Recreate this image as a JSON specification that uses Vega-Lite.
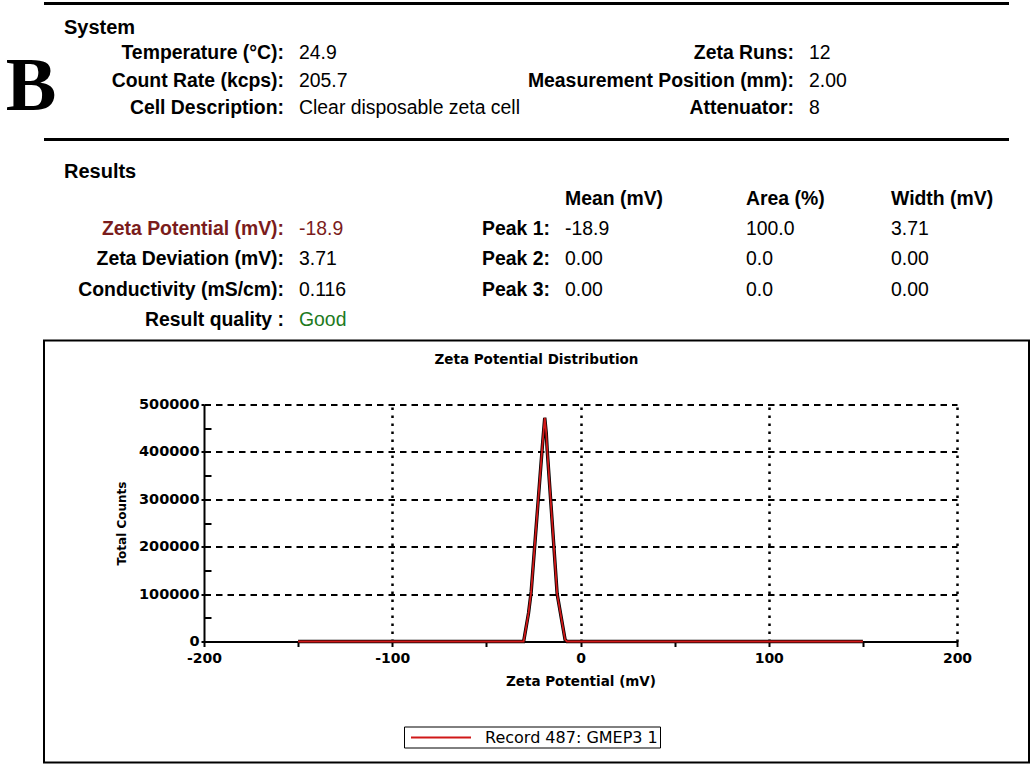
{
  "$schema": "https://vega.github.io/schema/vega-lite/v6.json",
  "background": "white",
  "padding": {"left": 5, "top": 1.5, "right": 0, "bottom": 0},
  "spacing": 3.5,
  "resolve": {"scale": {"color": "independent"}, "legend": {"color": "independent"}},
  "config": {"font": "Liberation Sans", "view": {"stroke": null}},
  "datasets": {
    "rules": [{"edge": "top"}, {"edge": "section"}],
    "system": [
      {"side": "left", "line": "r1", "label": "Temperature (°C):", "value": "24.9"},
      {"side": "left", "line": "r2", "label": "Count Rate (kcps):", "value": "205.7"},
      {"side": "left", "line": "r3", "label": "Cell Description:", "value": "Clear disposable zeta cell"},
      {"side": "right", "line": "r1", "label": "Zeta Runs:", "value": "12"},
      {"side": "right", "line": "r2", "label": "Measurement Position (mm):", "value": "2.00"},
      {"side": "right", "line": "r3", "label": "Attenuator:", "value": "8"}
    ],
    "results": [
      {"block": "zeta", "line": "p1", "label": "Zeta Potential (mV):", "value": "-18.9", "labelTone": "alert", "valueTone": "alert"},
      {"block": "zeta", "line": "p2", "label": "Zeta Deviation (mV):", "value": "3.71", "labelTone": "normal", "valueTone": "normal"},
      {"block": "zeta", "line": "p3", "label": "Conductivity (mS/cm):", "value": "0.116", "labelTone": "normal", "valueTone": "normal"},
      {"block": "zeta", "line": "q", "label": "Result quality :", "value": "Good", "labelTone": "normal", "valueTone": "good"}
    ],
    "peaks": [
      {"block": "peaks", "line": "hdr", "peak": "", "mean": "Mean (mV)", "area": "Area (%)", "width": "Width (mV)"},
      {"block": "peaks", "line": "p1", "peak": "Peak 1:", "mean": "-18.9", "area": "100.0", "width": "3.71"},
      {"block": "peaks", "line": "p2", "peak": "Peak 2:", "mean": "0.00", "area": "0.0", "width": "0.00"},
      {"block": "peaks", "line": "p3", "peak": "Peak 3:", "mean": "0.00", "area": "0.0", "width": "0.00"}
    ],
    "dist": [
      {"mv": -150, "counts": 0, "record": "Record 487: GMEP3 1"},
      {"mv": -30.2, "counts": 0, "record": "Record 487: GMEP3 1"},
      {"mv": -27.6, "counts": 60000, "record": "Record 487: GMEP3 1"},
      {"mv": -26.2, "counts": 105000, "record": "Record 487: GMEP3 1"},
      {"mv": -20.3, "counts": 410000, "record": "Record 487: GMEP3 1"},
      {"mv": -19.0, "counts": 472000, "record": "Record 487: GMEP3 1"},
      {"mv": -18.2, "counts": 440000, "record": "Record 487: GMEP3 1"},
      {"mv": -17.7, "counts": 405000, "record": "Record 487: GMEP3 1"},
      {"mv": -12.4, "counts": 100000, "record": "Record 487: GMEP3 1"},
      {"mv": -8.2, "counts": 4000, "record": "Record 487: GMEP3 1"},
      {"mv": -7.2, "counts": 0, "record": "Record 487: GMEP3 1"},
      {"mv": 150, "counts": 0, "record": "Record 487: GMEP3 1"}
    ]
  },
  "vconcat": [
    {
      "width": 965, "height": 10.5,
      "data": {"name": "rules"},
      "transform": [{"filter": "datum.edge === 'top'"}],
      "mark": {"type": "rule", "color": "#000", "strokeWidth": 3},
      "encoding": {"y": {"field": "edge", "type": "nominal", "scale": {"type": "point", "padding": 0, "align": 0}, "axis": null}}
    },
    {
      "title": {"text": "System", "anchor": "start", "frame": "group", "dx": 20, "offset": 1, "fontSize": 20, "fontWeight": "bold", "color": "#000", "font": "Liberation Sans"},
      "bounds": "flush",
      "spacing": 15,
      "hconcat": [
        {
          "width": 240, "height": 95,
          "data": {"name": "system"},
          "transform": [{"filter": "datum.side === 'left'"}],
          "mark": {"type": "text", "align": "right", "baseline": "middle", "fontWeight": "bold", "fontSize": 19.4, "color": "#000"},
          "encoding": {
            "x": {"field": "side", "type": "nominal", "scale": {"type": "point", "padding": 0, "align": 1}, "axis": null},
            "y": {"field": "line", "type": "nominal", "scale": {"type": "point", "domain": ["r1", "r2", "r3"], "padding": 0.727, "align": 0.35},
              "axis": {"title": "B", "titleAngle": 0, "titleAlign": "right", "titleBaseline": "middle", "titleFont": "Liberation Serif", "titleFontSize": 76, "titleFontWeight": "bold", "titleColor": "#000", "titlePadding": -12, "labels": false, "ticks": false, "domain": false, "grid": false}},
            "text": {"field": "label"}
          }
        },
        {
          "width": 200, "height": 95,
          "data": {"name": "system"},
          "transform": [{"filter": "datum.side === 'left'"}],
          "mark": {"type": "text", "align": "left", "baseline": "middle", "fontSize": 19.4, "color": "#000"},
          "encoding": {
            "x": {"field": "side", "type": "nominal", "scale": {"type": "point", "padding": 0, "align": 0}, "axis": null},
            "y": {"field": "line", "type": "nominal", "scale": {"type": "point", "domain": ["r1", "r2", "r3"], "padding": 0.727, "align": 0.35}, "axis": null},
            "text": {"field": "value"}
          }
        },
        {
          "width": 280, "height": 95,
          "data": {"name": "system"},
          "transform": [{"filter": "datum.side === 'right'"}],
          "mark": {"type": "text", "align": "right", "baseline": "middle", "fontWeight": "bold", "fontSize": 19.4, "color": "#000"},
          "encoding": {
            "x": {"field": "side", "type": "nominal", "scale": {"type": "point", "padding": 0, "align": 1}, "axis": null},
            "y": {"field": "line", "type": "nominal", "scale": {"type": "point", "domain": ["r1", "r2", "r3"], "padding": 0.727, "align": 0.35}, "axis": null},
            "text": {"field": "label"}
          }
        },
        {
          "width": 200, "height": 95,
          "data": {"name": "system"},
          "transform": [{"filter": "datum.side === 'right'"}],
          "mark": {"type": "text", "align": "left", "baseline": "middle", "fontSize": 19.4, "color": "#000"},
          "encoding": {
            "x": {"field": "side", "type": "nominal", "scale": {"type": "point", "padding": 0, "align": 0}, "axis": null},
            "y": {"field": "line", "type": "nominal", "scale": {"type": "point", "domain": ["r1", "r2", "r3"], "padding": 0.727, "align": 0.35}, "axis": null},
            "text": {"field": "value"}
          }
        }
      ]
    },
    {
      "width": 965, "height": 18.5,
      "data": {"name": "rules"},
      "transform": [{"filter": "datum.edge === 'section'"}],
      "mark": {"type": "rule", "color": "#000", "strokeWidth": 3},
      "encoding": {"y": {"field": "edge", "type": "nominal", "scale": {"type": "point", "padding": 0, "align": 0}, "axis": null}}
    },
    {
      "title": {"text": "Results", "anchor": "start", "frame": "group", "dx": 20, "offset": 6, "fontSize": 20, "fontWeight": "bold", "color": "#000", "font": "Liberation Sans"},
      "bounds": "flush",
      "spacing": 15,
      "hconcat": [
        {
          "width": 240, "height": 147.5,
          "data": {"name": "results"},
          "mark": {"type": "text", "align": "right", "baseline": "middle", "fontWeight": "bold", "fontSize": 19.4},
          "encoding": {
            "x": {"field": "block", "type": "nominal", "scale": {"type": "point", "padding": 0, "align": 1}, "axis": null},
            "y": {"field": "line", "type": "nominal", "scale": {"type": "point", "domain": ["hdr", "p1", "p2", "p3", "q"], "padding": 0.434, "align": 0.41}, "axis": null},
            "text": {"field": "label"},
            "color": {"field": "labelTone", "type": "nominal", "scale": {"domain": ["normal", "alert", "good"], "range": ["#000000", "#7a1c1c", "#1d7a1d"]}, "legend": null}
          }
        },
        {
          "width": 155.5, "height": 147.5,
          "data": {"name": "results"},
          "mark": {"type": "text", "align": "left", "baseline": "middle", "fontSize": 19.4},
          "encoding": {
            "x": {"field": "block", "type": "nominal", "scale": {"type": "point", "padding": 0, "align": 0}, "axis": null},
            "y": {"field": "line", "type": "nominal", "scale": {"type": "point", "domain": ["hdr", "p1", "p2", "p3", "q"], "padding": 0.434, "align": 0.41}, "axis": null},
            "text": {"field": "value"},
            "color": {"field": "valueTone", "type": "nominal", "scale": {"domain": ["normal", "alert", "good"], "range": ["#000000", "#7a1c1c", "#1d7a1d"]}, "legend": null}
          }
        },
        {
          "width": 80, "height": 147.5,
          "data": {"name": "peaks"},
          "transform": [{"filter": "datum.line !== 'hdr'"}],
          "mark": {"type": "text", "align": "right", "baseline": "middle", "fontWeight": "bold", "fontSize": 19.4, "color": "#000"},
          "encoding": {
            "x": {"field": "block", "type": "nominal", "scale": {"type": "point", "padding": 0, "align": 1}, "axis": null},
            "y": {"field": "line", "type": "nominal", "scale": {"type": "point", "domain": ["hdr", "p1", "p2", "p3", "q"], "padding": 0.434, "align": 0.41}, "axis": null},
            "text": {"field": "peak"}
          }
        },
        {
          "width": 165.5, "height": 147.5,
          "data": {"name": "peaks"},
          "encoding": {
            "x": {"field": "block", "type": "nominal", "scale": {"type": "point", "padding": 0, "align": 0}, "axis": null},
            "y": {"field": "line", "type": "nominal", "scale": {"type": "point", "domain": ["hdr", "p1", "p2", "p3", "q"], "padding": 0.434, "align": 0.41}, "axis": null},
            "text": {"field": "mean"}
          },
          "layer": [
            {"transform": [{"filter": "datum.line === 'hdr'"}], "mark": {"type": "text", "align": "left", "baseline": "middle", "fontWeight": "bold", "fontSize": 19.4, "color": "#000"}},
            {"transform": [{"filter": "datum.line !== 'hdr'"}], "mark": {"type": "text", "align": "left", "baseline": "middle", "fontSize": 19.4, "color": "#000"}}
          ]
        },
        {
          "width": 130, "height": 147.5,
          "data": {"name": "peaks"},
          "encoding": {
            "x": {"field": "block", "type": "nominal", "scale": {"type": "point", "padding": 0, "align": 0}, "axis": null},
            "y": {"field": "line", "type": "nominal", "scale": {"type": "point", "domain": ["hdr", "p1", "p2", "p3", "q"], "padding": 0.434, "align": 0.41}, "axis": null},
            "text": {"field": "area"}
          },
          "layer": [
            {"transform": [{"filter": "datum.line === 'hdr'"}], "mark": {"type": "text", "align": "left", "baseline": "middle", "fontWeight": "bold", "fontSize": 19.4, "color": "#000"}},
            {"transform": [{"filter": "datum.line !== 'hdr'"}], "mark": {"type": "text", "align": "left", "baseline": "middle", "fontSize": 19.4, "color": "#000"}}
          ]
        },
        {
          "width": 119, "height": 147.5,
          "data": {"name": "peaks"},
          "encoding": {
            "x": {"field": "block", "type": "nominal", "scale": {"type": "point", "padding": 0, "align": 0}, "axis": null},
            "y": {"field": "line", "type": "nominal", "scale": {"type": "point", "domain": ["hdr", "p1", "p2", "p3", "q"], "padding": 0.434, "align": 0.41}, "axis": null},
            "text": {"field": "width"}
          },
          "layer": [
            {"transform": [{"filter": "datum.line === 'hdr'"}], "mark": {"type": "text", "align": "left", "baseline": "middle", "fontWeight": "bold", "fontSize": 19.4, "color": "#000"}},
            {"transform": [{"filter": "datum.line !== 'hdr'"}], "mark": {"type": "text", "align": "left", "baseline": "middle", "fontSize": 19.4, "color": "#000"}}
          ]
        }
      ]
    },
    {
      "width": 985, "height": 422,
      "view": {"stroke": "#000", "strokeWidth": 2},
      "title": {"text": "Zeta Potential Distribution", "anchor": "middle", "frame": "group", "offset": -26, "fontSize": 13.5, "font": "DejaVu Sans", "fontWeight": "bold", "color": "#000"},
      "data": {"name": "dist"},
      "resolve": {"axis": {"x": "independent", "y": "independent"}},
      "layer": [
        {
          "mark": {"type": "line", "color": "#000", "strokeWidth": 3.4},
          "encoding": {
            "x": {"field": "mv", "type": "quantitative", "scale": {"domain": [-200, 200], "range": [160, 913], "nice": false, "zero": false},
              "axis": {"orient": "bottom", "offset": -121, "values": [-200, -150, -100, -50, 0, 50, 100, 150, 200], "labelExpr": "datum.value % 100 === 0 ? '' + datum.value : ''", "labelFlush": false, "labelOverlap": false,
                "title": "Zeta Potential (mV)", "grid": false,
                "domainColor": "#000", "domainWidth": 2, "tickColor": "#000", "tickWidth": 2, "tickSize": 5, "labelPadding": 5,
                "labelFont": "DejaVu Sans", "labelFontWeight": "bold", "labelFontSize": 14, "labelColor": "#000",
                "titleFont": "DejaVu Sans", "titleFontWeight": "bold", "titleFontSize": 13.5, "titleColor": "#000", "titlePadding": 9}},
            "y": {"field": "counts", "type": "quantitative", "scale": {"domain": [0, 500000], "range": [301, 64], "nice": false, "zero": true},
              "axis": {"orient": "left", "offset": -160, "values": [0, 100000, 200000, 300000, 400000, 500000], "labelExpr": "'' + datum.value", "labelFlush": false, "labelOverlap": false,
                "title": "Total Counts", "grid": true, "gridColor": "#000", "gridDash": [6.5, 5], "gridWidth": 2, "gridOpacity": 1,
                "domainColor": "#000", "domainWidth": 2, "tickColor": "#000", "tickWidth": 2, "tickSize": 3, "labelPadding": 2,
                "labelFont": "DejaVu Sans", "labelFontWeight": "bold", "labelFontSize": 14.5, "labelColor": "#000",
                "titleFont": "DejaVu Sans", "titleFontWeight": "bold", "titleFontSize": 12, "titleColor": "#000", "titlePadding": 10}}
          }
        },
        {
          "mark": {"type": "line", "strokeWidth": 1.8},
          "encoding": {
            "x": {"field": "mv", "type": "quantitative", "scale": {"domain": [-200, 200], "range": [160, 913], "nice": false, "zero": false},
              "axis": {"orient": "top", "offset": -64, "values": [-100, 0, 100, 200], "labels": false, "domain": false, "ticks": false, "title": null,
                "grid": true, "gridColor": "#000", "gridDash": [2.5, 5.5], "gridWidth": 2.5, "gridOpacity": 1}},
            "y": {"field": "counts", "type": "quantitative", "scale": {"domain": [0, 500000], "range": [301, 64], "nice": false, "zero": true},
              "axis": {"orient": "left", "offset": -160, "values": [50000, 150000, 250000, 350000, 450000], "labels": false, "domain": false, "grid": false, "title": null,
                "tickColor": "#000", "tickWidth": 2, "tickSize": -7}},
            "color": {"field": "record", "type": "nominal", "scale": {"domain": ["Record 487: GMEP3 1"], "range": ["#d01818"]},
              "legend": {"orient": "none", "legendX": 360, "legendY": 386, "title": null, "symbolType": "M-3.75,0H3.75", "symbolSize": 256, "symbolStrokeWidth": 2,
                "symbolOffset": 26, "labelFont": "DejaVu Sans", "labelFontSize": 16, "labelColor": "#000", "labelOffset": 35, "labelLimit": 400, "padding": 2,
                "strokeColor": "#000", "fillColor": "#fff"}}
          }
        }
      ]
    }
  ]
}
